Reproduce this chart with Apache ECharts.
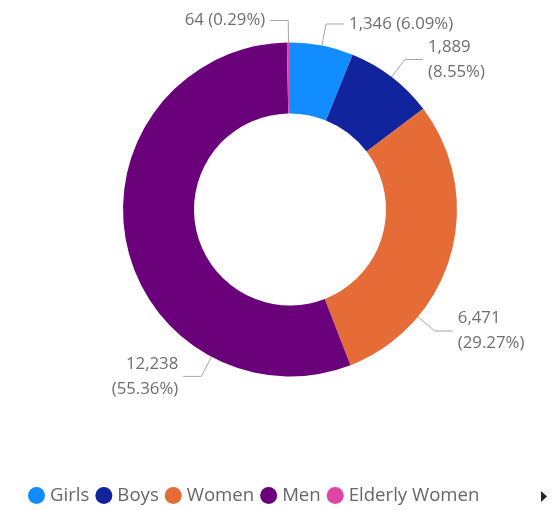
<!DOCTYPE html>
<html><head><meta charset="utf-8">
<script src="https://cdn.jsdelivr.net/npm/echarts@6/dist/echarts.min.js"></script>
<style>html,body{margin:0;padding:0;background:#fff}#c{width:553px;height:510px}</style>
</head><body><div id="c"></div>
<script>
const categories = ['Girls', 'Boys', 'Women', 'Men', 'Elderly Women'];
const values = [1346, 1889, 6471, 12238, 64];
const percentLabels = ['6.09%', '8.55%', '29.27%', '55.36%', '0.29%'];
const colors = ['#118DFF', '#12239E', '#E66C37', '#6B007B', '#E044A7'];

// label placement style (angle in degrees clockwise from top; null = slice middle)
const CX = 290, CY = 209.5, R_IN = 96, R_OUT = 167;
const LEN1 = 22, LEN2 = 18;
const labelAngleOverride = [null, null, 130, 208, null];
const twoLine = [false, true, true, true, false];

const total = values.reduce((a, b) => a + b, 0);
const midAngles = [];
{ let acc = 0; values.forEach(v => { midAngles.push((acc + v / 2) / total * 360); acc += v; }); }

const chart = echarts.init(document.getElementById('c'));
const fmt = v => v.toLocaleString('en-US');
chart.setOption({
  animation: false,
  color: colors,
  legend: {
    left: 23, bottom: 0, itemGap: 6, itemWidth: 17, itemHeight: 17, icon: 'circle',
    textStyle: {color: '#666666', fontSize: 18.6, fontFamily: 'Open Sans, sans-serif'},
    data: categories
  },
  graphic: [{type: 'polygon', shape: {points: [[541, 491], [547, 496.5], [541, 502]]}, style: {fill: '#252423'}}],
  series: [{
    type: 'pie',
    center: [CX, CY],
    radius: [R_IN, R_OUT],
    startAngle: 90,
    clockwise: true,
    label: {
      color: '#6e6e6e', fontSize: 16.8, fontFamily: 'Open Sans, sans-serif', lineHeight: 25,
      overflow: 'none', width: 200,
      formatter: p => fmt(values[p.dataIndex]) + (twoLine[p.dataIndex] ? '\n' : ' ') + '(' + percentLabels[p.dataIndex] + ')'
    },
    labelLine: {show: true, length: 15, length2: 20, lineStyle: {color: '#a6a6a6', width: 1}},
    labelLayout: function (params) {
      const i = params.dataIndex;
      const ang = (labelAngleOverride[i] != null ? labelAngleOverride[i] : midAngles[i]) * Math.PI / 180;
      const sx = Math.sin(ang), sy = -Math.cos(ang);
      const right = sx >= 0 && i !== 4;
      const p0 = [CX + R_OUT * sx, CY + R_OUT * sy];
      const p1 = [CX + (R_OUT + LEN1) * sx, CY + (R_OUT + LEN1) * sy];
      const p2 = [p1[0] + (right ? LEN2 : -LEN2), p1[1]];
      return {
        x: p2[0] + (right ? 5 : -5),
        y: p2[1],
        align: right ? 'left' : 'right',
        verticalAlign: 'middle',
        labelLinePoints: [p0, p1, p2]
      };
    },
    data: categories.map((c, i) => ({name: c, value: values[i]}))
  }]
});
</script></body></html>
